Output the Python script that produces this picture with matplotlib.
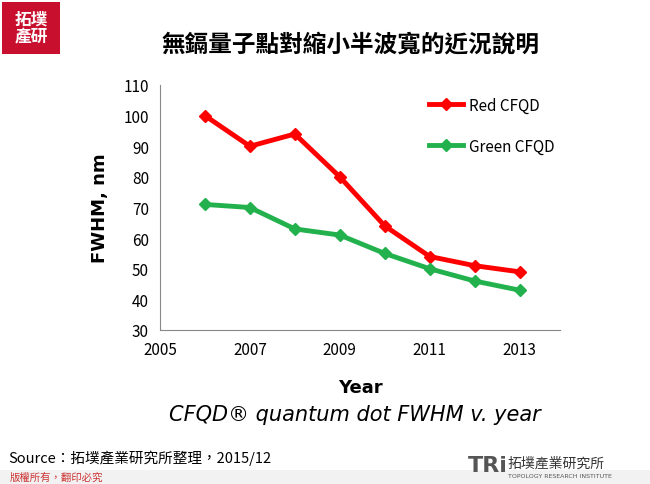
import matplotlib
matplotlib.use("Agg")
import matplotlib.pyplot as plt
from matplotlib.patches import Rectangle

years = [2006, 2007, 2008, 2009, 2010, 2011, 2012, 2013]
red_cfqd = [100, 90, 94, 80, 64, 54, 51, 49]
green_cfqd = [71, 70, 63, 61, 55, 50, 46, 43]
xticks = [2005, 2007, 2009, 2011, 2013]
yticks = list(range(30, 111, 10))

plt.rcParams['font.family'] = ['Noto Sans CJK TC', 'DejaVu Sans']
W, H = 650, 485
fig = plt.figure(figsize=(W/100, H/100), dpi=100)
fig.patch.set_facecolor('white')

ax = fig.add_axes([160/W, 1-331/H, (560-160)/W, (331-86)/H])
ax.plot(years, red_cfqd, color='#ff0000', lw=3.5, marker='D', ms=6, label='Red CFQD')
ax.plot(years, green_cfqd, color='#22b14c', lw=3.5, marker='D', ms=6, label='Green CFQD')
ax.set_xlim(2005, 2013.9)
ax.set_ylim(30, 110)
ax.set_xticks(xticks)
ax.set_yticks(yticks)
ax.tick_params(labelsize=11, length=0, pad=8)
for s in ['top', 'right']:
    ax.spines[s].set_visible(False)
for s in ['left', 'bottom']:
    ax.spines[s].set_color('#888888')
ax.set_xlabel('Year', fontsize=13, fontweight='bold', family='DejaVu Sans', labelpad=14)
ax.set_ylabel('FWHM, nm', fontsize=13, fontweight='bold', family='DejaVu Sans', labelpad=10)
ax.legend(loc='upper right', frameon=False, fontsize=11, handlelength=2.2,
          handletextpad=0.4, labelspacing=1.6, bbox_to_anchor=(1.02, 1.01))

fig.text(355/W, 1-415/H, 'CFQD® quantum dot FWHM v. year', fontsize=15,
         style='italic', ha='center', va='center', family='DejaVu Sans')
fig.text(350/W, 1-45/H, '無鎘量子點對縮小半波寬的近況說明', fontsize=17,
         fontweight='bold', ha='center', va='center')
fig.text(8/W, 1-458/H, 'Source：拓墣產業研究所整理，2015/12', fontsize=10.5, va='center')

fig.patches.append(Rectangle((2/W, 1-55/H), 58/W, 52/H, transform=fig.transFigure,
                             facecolor='#c8102e', edgecolor='none'))
fig.text(31/W, 1-28/H, '拓墣\n產研', fontsize=12, color='white', ha='center',
         va='center', fontweight='bold', linespacing=1.0)
fig.patches.append(Rectangle((0, 0), 1, 14/H, transform=fig.transFigure,
                             facecolor='#f2f2f2', edgecolor='none'))
fig.text(10/W, 1-478/H, '版權所有，翻印必究', fontsize=7.5, color='#cc3333', va='center')
fig.text(468/W, 1-466/H, 'TRi', fontsize=16, color='#555555', fontweight='bold',
         family='DejaVu Sans', va='center')
fig.text(508/W, 1-464/H, '拓墣產業研究所', fontsize=10, color='#333333', va='center')
fig.text(508/W, 1-477/H, 'TOPOLOGY RESEARCH INSTITUTE', fontsize=4.5,
         color='#555555', va='center', family='DejaVu Sans')

fig.savefig('out.png', dpi=100)
